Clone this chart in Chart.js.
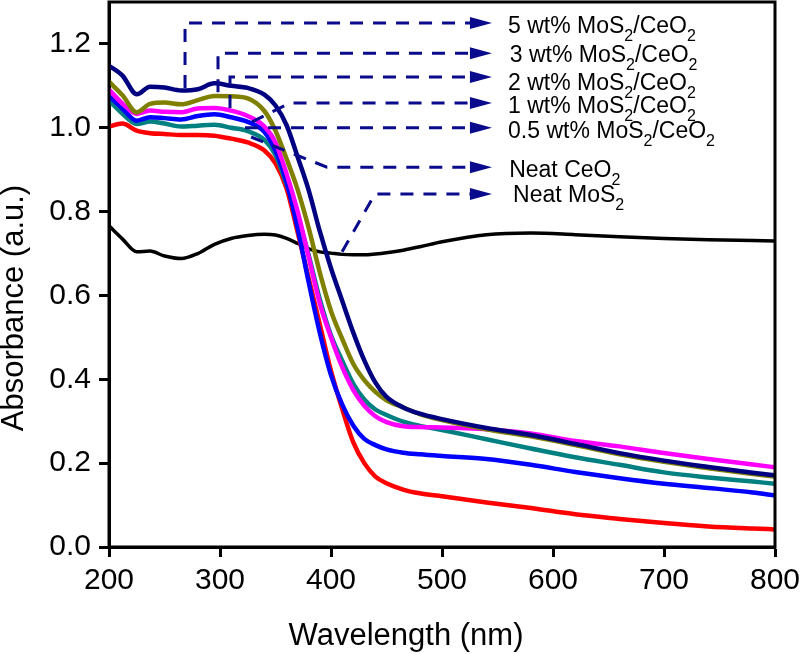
<!DOCTYPE html>
<html>
<head>
<meta charset="utf-8">
<script src="https://cdn.jsdelivr.net/npm/chart.js@4/dist/chart.umd.min.js"></script>
<style>
  body { margin: 0; background: #fff; }
  canvas { display: block; }
</style>
</head>
<body>
<canvas id="uv-chart" width="800" height="654"></canvas>
<script>
// wavelength grid (nm)
var wavelengths = [200, 212, 225, 237, 250, 265, 280, 295, 310, 325, 340, 350, 360, 370, 380, 390, 400, 410, 420, 430, 440, 450, 465, 480, 500, 540, 580, 620, 660, 700, 740, 780, 800];

// absorbance
var mos5 = [1.148, 1.125, 1.080, 1.098, 1.096, 1.089, 1.092, 1.106, 1.100, 1.095, 1.079, 1.053, 1.006, 0.930, 0.850, 0.752, 0.665, 0.588, 0.512, 0.445, 0.392, 0.358, 0.333, 0.318, 0.305, 0.284, 0.267, 0.246, 0.224, 0.206, 0.191, 0.177, 0.171];
var mos3 = [1.110, 1.078, 1.037, 1.057, 1.060, 1.056, 1.066, 1.076, 1.075, 1.070, 1.040, 0.993, 0.926, 0.852, 0.760, 0.654, 0.563, 0.497, 0.437, 0.398, 0.370, 0.350, 0.333, 0.317, 0.303, 0.281, 0.264, 0.243, 0.221, 0.203, 0.188, 0.174, 0.168];
var mos2 = [1.091, 1.058, 1.033, 1.041, 1.038, 1.037, 1.046, 1.047, 1.041, 1.028, 1.003, 0.965, 0.890, 0.800, 0.690, 0.580, 0.500, 0.430, 0.375, 0.337, 0.312, 0.298, 0.288, 0.286, 0.285, 0.281, 0.271, 0.253, 0.240, 0.224, 0.210, 0.197, 0.190];
var mos1 = [1.076, 1.046, 1.017, 1.025, 1.023, 1.020, 1.028, 1.032, 1.025, 1.014, 0.990, 0.945, 0.870, 0.760, 0.630, 0.510, 0.410, 0.340, 0.290, 0.258, 0.243, 0.233, 0.225, 0.221, 0.217, 0.210, 0.196, 0.179, 0.164, 0.151, 0.141, 0.130, 0.123];
var mos05 = [1.065, 1.034, 1.009, 1.015, 1.010, 1.003, 1.005, 1.007, 1.000, 0.992, 0.971, 0.935, 0.865, 0.790, 0.695, 0.590, 0.505, 0.445, 0.390, 0.352, 0.328, 0.315, 0.299, 0.289, 0.279, 0.257, 0.235, 0.214, 0.196, 0.178, 0.166, 0.156, 0.151];
var ceo2 = [1.003, 1.010, 0.993, 0.987, 0.985, 0.983, 0.983, 0.981, 0.974, 0.965, 0.946, 0.915, 0.855, 0.750, 0.640, 0.530, 0.420, 0.330, 0.250, 0.200, 0.168, 0.152, 0.137, 0.128, 0.121, 0.106, 0.093, 0.078, 0.067, 0.057, 0.049, 0.044, 0.042];
var neatMos2 = [0.766, 0.735, 0.704, 0.706, 0.694, 0.688, 0.700, 0.722, 0.736, 0.743, 0.746, 0.744, 0.736, 0.724, 0.711, 0.704, 0.701, 0.698, 0.697, 0.697, 0.699, 0.702, 0.708, 0.716, 0.728, 0.745, 0.749, 0.745, 0.740, 0.736, 0.733, 0.731, 0.730];

var seriesNames = ['5 wt% MoS2/CeO2', '3 wt% MoS2/CeO2', '2 wt% MoS2/CeO2', '1 wt% MoS2/CeO2', '0.5 wt% MoS2/CeO2', 'Neat CeO2', 'Neat MoS2'];
var seriesData = [mos5, mos3, mos2, mos1, mos05, ceo2, neatMos2];
var seriesColors = ['#000080', '#808000', '#ff00ff', '#0000ff', '#008080', '#ff0000', '#000000'];

var xTicks = [200, 300, 400, 500, 600, 700, 800];
var yTicks = [0.0, 0.2, 0.4, 0.6, 0.8, 1.0, 1.2];

// annotation labels (text, subscript, text, subscript ...)
var labelParts = [
  ['5 wt% MoS', '2', '/CeO', '2'],
  ['3 wt% MoS', '2', '/CeO', '2'],
  ['2 wt% MoS', '2', '/CeO', '2'],
  ['1 wt% MoS', '2', '/CeO', '2'],
  ['0.5 wt% MoS', '2', '/CeO', '2'],
  ['Neat CeO', '2'],
  ['Neat MoS', '2']
];
// leader lines in data units [nm, absorbance], ending in an arrow at arrowX
var leaderPaths = [
  [[268.5, 1.095], [268.5, 1.250]],
  [[298.2, 1.085], [298.2, 1.178]],
  [[309, 1.047], [309, 1.121]],
  [[328.8, 1.014], [363, 1.059]],
  [[322.5, 1.000]],
  [[328, 0.978], [396.4, 0.906]],
  [[410, 0.704], [439.6, 0.842]]
];
var arrowX = 545;
var labelX = [559.5, 561, 559.5, 559.5, 559.5, 560.5, 564];
var labelY = [1.226, 1.157, 1.090, 1.035, 0.976, 0.883, 0.823];

var FONT = "'Liberation Sans', Arial, sans-serif";
var leaderColor = '#0a0a8c';

var annotations = {
  id: 'annotations',
  afterDraw: function(chart) {
    var ctx = chart.ctx, xs = chart.scales.x, ys = chart.scales.y;
    var L = xs.left, R = xs.right, T = ys.top, B = ys.bottom;
    ctx.save();

    // leader lines
    ctx.strokeStyle = leaderColor;
    ctx.fillStyle = leaderColor;
    ctx.lineWidth = 3;
    leaderPaths.forEach(function(path) {
      var endY = ys.getPixelForValue(path[path.length - 1][1]);
      var tip = xs.getPixelForValue(arrowX);
      ctx.setLineDash([13, 10]);
      ctx.beginPath();
      path.forEach(function(pt, j) {
        var px = xs.getPixelForValue(pt[0]), py = ys.getPixelForValue(pt[1]);
        if (j === 0) ctx.moveTo(px, py); else ctx.lineTo(px, py);
      });
      ctx.lineTo(tip - 20, endY);
      ctx.stroke();
      ctx.setLineDash([]);
      ctx.beginPath();
      ctx.moveTo(tip, endY);
      ctx.lineTo(tip - 22, endY - 6);
      ctx.lineTo(tip - 22, endY + 6);
      ctx.closePath();
      ctx.fill();
    });

    // labels with subscripts
    ctx.fillStyle = '#000';
    ctx.textBaseline = 'alphabetic';
    labelParts.forEach(function(parts, i) {
      var px = xs.getPixelForValue(labelX[i]);
      var py = ys.getPixelForValue(labelY[i]);
      parts.forEach(function(p, k) {
        var sub = k % 2 === 1;
        ctx.font = (sub ? '16px ' : '23px ') + FONT;
        ctx.fillText(p, px, py + (sub ? 8 : 0));
        px += ctx.measureText(p).width;
      });
    });

    // frame
    ctx.setLineDash([]);
    ctx.strokeStyle = '#000';
    ctx.lineWidth = 3;
    ctx.beginPath();
    ctx.moveTo(L, T);
    ctx.lineTo(R, T);
    ctx.lineTo(R, B);
    ctx.lineTo(L, B);
    ctx.closePath();
    ctx.stroke();

    // axis titles
    ctx.font = '31px ' + FONT;
    ctx.textAlign = 'center';
    ctx.fillText('Wavelength (nm)', xs.getPixelForValue(467.6), B + 98);
    ctx.translate(L - 86, ys.getPixelForValue(0.57));
    ctx.rotate(-Math.PI / 2);
    ctx.fillText('Absorbance (a.u.)', 0, 0);
    ctx.restore();
  }
};

function noPadding(s) {
  s.paddingLeft = 0;
  s.paddingRight = 0;
  s.paddingTop = 0;
  s.paddingBottom = 0;
}

function createChart() {
  var ctx = document.getElementById('uv-chart').getContext('2d');
  var datasets = seriesNames.map(function(name, i) {
    return {
      label: name,
      data: wavelengths.map(function(w, j) { return { x: w, y: seriesData[i][j] }; }),
      borderColor: seriesColors[i],
      borderWidth: i === 6 ? 3.5 : 4.5,
      pointRadius: 0,
      fill: false,
      cubicInterpolationMode: 'monotone'
    };
  });

  new Chart(ctx, {
    type: 'line',
    data: { datasets: datasets },
    options: {
      responsive: false,
      animation: false,
      devicePixelRatio: 1,
      layout: { padding: { top: 2, right: 25, left: 0, bottom: 0 } },
      plugins: { legend: { display: false }, tooltip: { enabled: false } },
      scales: {
        x: {
          type: 'linear',
          min: 200,
          max: 800,
          afterFit: function(s) { s.height = 107; noPadding(s); },
          afterBuildTicks: function(s) { s.ticks = xTicks.map(function(v) { return { value: v }; }); },
          border: { display: true, width: 3, color: '#000' },
          grid: { drawOnChartArea: false, drawTicks: true, tickLength: 10, tickWidth: 3, tickColor: '#000' },
          ticks: { color: '#000', padding: 6, maxRotation: 0, font: { family: FONT, size: 30 } }
        },
        y: {
          min: 0,
          max: 1.3,
          afterFit: function(s) { s.width = 109; noPadding(s); },
          afterBuildTicks: function(s) { s.ticks = yTicks.map(function(v) { return { value: v }; }); },
          border: { display: true, width: 3, color: '#000' },
          grid: { drawOnChartArea: false, drawTicks: true, tickLength: 10, tickWidth: 3, tickColor: '#000' },
          ticks: {
            color: '#000', padding: 8, font: { family: FONT, size: 30 },
            callback: function(v) { return Number(v).toFixed(1); }
          }
        }
      }
    },
    plugins: [annotations]
  });
}

createChart();
</script>
</body>
</html>
